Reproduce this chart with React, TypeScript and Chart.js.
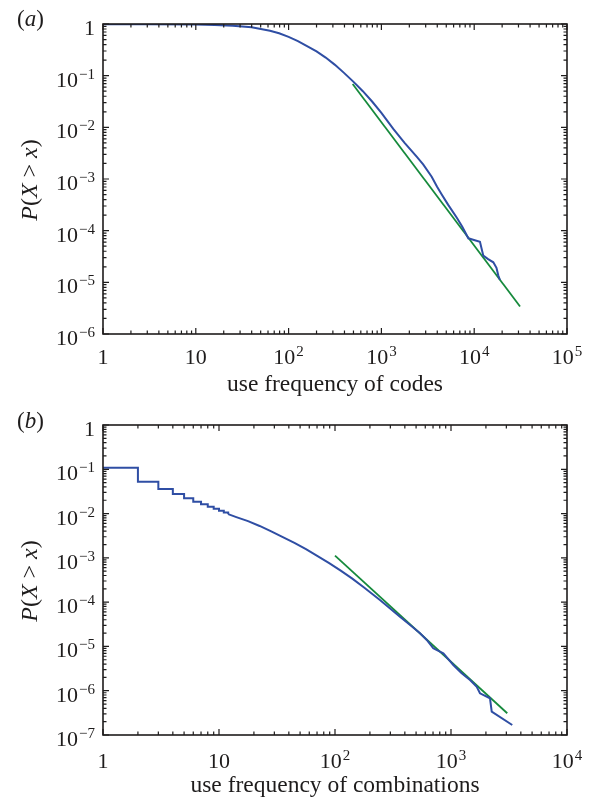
import React, { useEffect, useRef } from 'react';
import { Chart, registerables } from 'chart.js';

Chart.register(...registerables);

// ---------- Panel (a): use frequency of codes ----------
const codesFreq = [1, 3, 10, 16, 25, 40, 63, 79, 100, 126, 158, 200, 251, 316, 398, 501, 631, 794, 1000, 1343, 1778, 2399, 2818, 3483, 3981, 4467, 5248, 6471, 7413, 8650, 9550, 11535, 12531, 14125, 16069, 17378, 18197, 18967];
const codesCcdf = [0.991, 0.986, 0.973, 0.955, 0.927, 0.861, 0.741, 0.661, 0.562, 0.468, 0.372, 0.295, 0.224, 0.162, 0.112, 0.0759, 0.0501, 0.0316, 0.0191, 0.00933, 0.00501, 0.0027, 0.00191, 0.00111, 7.08e-4, 5.01e-4, 3.16e-4, 1.8e-4, 1.2e-4, 7.11e-5, 6.76e-5, 6.12e-5, 3.28e-5, 2.82e-5, 2.44e-5, 1.91e-5, 1.35e-5, 1.11e-5];
const codesFitX = [490, 31200];
const codesFitY = [0.069, 3.4e-6];

const xTicksA = [1, 10, 100, 1000, 10000, 100000];
const xTickLabelsA = ['1', '10', '10^2', '10^3', '10^4', '10^5'];
const yTicksA = [1, 0.1, 0.01, 0.001, 1e-4, 1e-5, 1e-6];
const yTickLabelsA = ['1', '10^−1', '10^−2', '10^−3', '10^−4', '10^−5', '10^−6'];

// ---------- Panel (b): use frequency of combinations ----------
const combStepX = [1, 2, 3, 4, 5, 6, 7, 8, 9, 10, 11, 12];
const combStepY = [0.109, 0.0525, 0.0359, 0.0277, 0.0221, 0.0186, 0.0162, 0.0143, 0.0129, 0.0116, 0.0106, 0.0097];
const combFreq = [12, 14.1, 17.8, 22.4, 28.2, 35.5, 44.7, 56.2, 70.8, 89.1, 112, 141, 178, 244, 295, 363, 447, 541, 618, 703, 859, 1047, 1236, 1459, 1667, 1778, 2168, 2244, 3373];
const combCcdf = [0.0097, 0.00832, 0.00676, 0.00525, 0.00398, 0.00295, 0.00219, 0.00158, 0.0011, 7.59e-4, 5.13e-4, 3.39e-4, 2.14e-4, 1.12e-4, 7.41e-5, 4.7e-5, 3.02e-5, 1.98e-5, 1.4e-5, 9.08e-6, 7.0e-6, 3.81e-6, 2.47e-6, 1.75e-6, 1.23e-6, 8.75e-7, 6.75e-7, 3.37e-7, 1.68e-7];
const combFitX = [100, 3055];
const combFitY = [1.12e-3, 3.1e-7];

const xTicksB = [1, 10, 100, 1000, 10000];
const xTickLabelsB = ['1', '10', '10^2', '10^3', '10^4'];
const yTicksB = [1, 0.1, 0.01, 0.001, 1e-4, 1e-5, 1e-6, 1e-7];
const yTickLabelsB = ['1', '10^−1', '10^−2', '10^−3', '10^−4', '10^−5', '10^−6', '10^−7'];

const BLUE = '#2f4ea4';
const GREEN = '#168a3c';
const INK = '#1e1c1c';
const SERIF = '"Liberation Serif", "Times New Roman", serif';

const pts = (xs: number[], ys: number[]) => xs.map((x, i) => ({ x, y: ys[i] }));

function minorTicks(ticks: number[]) {
  const lo = Math.min(...ticks);
  const hi = Math.max(...ticks);
  const out: number[] = [];
  for (let d = lo; d < hi * 0.999; d *= 10) {
    for (let k = 2; k <= 9; k++) out.push(d * k);
  }
  return out;
}

function drawTickLabel(ctx: CanvasRenderingContext2D, label: string, x: number, y: number, align: 'center' | 'right') {
  const [base, sup] = label.split('^');
  const size = 22;
  const supSize = 15;
  ctx.font = `${size}px ${SERIF}`;
  const wb = ctx.measureText(base).width;
  let ws = 0;
  if (sup) {
    ctx.font = `${supSize}px ${SERIF}`;
    ws = ctx.measureText(sup).width + 1;
  }
  const total = wb + ws;
  const x0 = align === 'center' ? x - total / 2 : x - total;
  ctx.textAlign = 'left';
  ctx.textBaseline = 'alphabetic';
  ctx.font = `${size}px ${SERIF}`;
  ctx.fillText(base, x0, y);
  if (sup) {
    ctx.font = `${supSize}px ${SERIF}`;
    ctx.fillText(sup, x0 + wb + 1, y - 8);
  }
}

type Seg = { t: string; it?: boolean };
function drawRich(ctx: CanvasRenderingContext2D, segs: Seg[], x: number, y: number, size: number, align: 'center' | 'left') {
  const fontOf = (s: Seg) => `${s.it ? 'italic ' : ''}${size}px ${SERIF}`;
  let total = 0;
  const widths = segs.map((s) => {
    ctx.font = fontOf(s);
    const w = ctx.measureText(s.t).width;
    total += w;
    return w;
  });
  let cx = align === 'center' ? x - total / 2 : x;
  ctx.textAlign = 'left';
  ctx.textBaseline = 'alphabetic';
  segs.forEach((s, i) => {
    ctx.font = fontOf(s);
    ctx.fillText(s.t, cx, y);
    cx += widths[i];
  });
}

type FrameCfg = {
  id: string;
  xTicks: number[];
  xLabels: string[];
  yTicks: number[];
  yLabels: string[];
  xTitle: string;
  panel: string;
  xLabelBase: number;
  xTitleBase: number;
  panelBase: number;
};

function framePlugin(cfg: FrameCfg) {
  return {
    id: cfg.id,
    afterDraw(chart: any) {
      const ctx: CanvasRenderingContext2D = chart.ctx;
      const a = chart.chartArea;
      const xs = chart.scales.x;
      const ys = chart.scales.y;
      ctx.save();
      ctx.strokeStyle = INK;
      ctx.fillStyle = INK;
      ctx.lineWidth = 1.6;
      ctx.strokeRect(a.left, a.top, a.right - a.left, a.bottom - a.top);

      ctx.lineWidth = 1.2;
      const vt = (v: number, len: number) => {
        const px = xs.getPixelForValue(v);
        ctx.beginPath();
        ctx.moveTo(px, a.bottom);
        ctx.lineTo(px, a.bottom - len);
        ctx.moveTo(px, a.top);
        ctx.lineTo(px, a.top + len);
        ctx.stroke();
      };
      const ht = (v: number, len: number) => {
        const py = ys.getPixelForValue(v);
        ctx.beginPath();
        ctx.moveTo(a.left, py);
        ctx.lineTo(a.left + len, py);
        ctx.moveTo(a.right, py);
        ctx.lineTo(a.right - len, py);
        ctx.stroke();
      };
      cfg.xTicks.forEach((v) => vt(v, 6));
      minorTicks(cfg.xTicks).forEach((v) => vt(v, 3.5));
      cfg.yTicks.forEach((v) => ht(v, 6));
      minorTicks(cfg.yTicks).forEach((v) => ht(v, 3.5));

      cfg.xTicks.forEach((v, i) => drawTickLabel(ctx, cfg.xLabels[i], xs.getPixelForValue(v), cfg.xLabelBase, 'center'));
      cfg.yTicks.forEach((v, i) => drawTickLabel(ctx, cfg.yLabels[i], a.left - 8, ys.getPixelForValue(v) + 11, 'right'));

      drawRich(ctx, [{ t: cfg.xTitle }], (a.left + a.right) / 2, cfg.xTitleBase, 23.5, 'center');

      ctx.save();
      ctx.translate(37, (a.top + a.bottom) / 2 + 1);
      ctx.rotate(-Math.PI / 2);
      drawRich(
        ctx,
        [{ t: 'P', it: true }, { t: '(' }, { t: 'X', it: true }, { t: ' > ' }, { t: 'x', it: true }, { t: ')' }],
        0,
        0,
        24,
        'center'
      );
      ctx.restore();

      drawRich(ctx, [{ t: '(' }, { t: cfg.panel, it: true }, { t: ')' }], 17, cfg.panelBase, 23, 'left');
      ctx.restore();
    },
  };
}

function makeChart(canvas: HTMLCanvasElement, datasets: any[], xRange: [number, number], yRange: [number, number], padding: any, plugin: any) {
  return new Chart(canvas, {
    type: 'line',
    data: { datasets },
    options: {
      animation: false,
      responsive: false,
      maintainAspectRatio: false,
      parsing: false as any,
      layout: { padding },
      scales: {
        x: { type: 'logarithmic', min: xRange[0], max: xRange[1], display: false },
        y: { type: 'logarithmic', min: yRange[0], max: yRange[1], display: false },
      },
      plugins: { legend: { display: false }, tooltip: { enabled: false } },
      elements: { point: { radius: 0 }, line: { tension: 0 } },
    },
    plugins: [plugin],
  });
}

export default function App() {
  const refA = useRef<HTMLCanvasElement>(null);
  const refB = useRef<HTMLCanvasElement>(null);

  useEffect(() => {
    const chartA = makeChart(
      refA.current!,
      [
        { data: pts(codesFreq, codesCcdf), borderColor: BLUE, borderWidth: 2, fill: false },
        { data: pts(codesFitX, codesFitY), borderColor: GREEN, borderWidth: 1.8, fill: false },
      ],
      [1, 1e5],
      [1e-6, 1],
      { left: 103, right: 28, top: 24, bottom: 76 },
      framePlugin({
        id: 'frameA',
        xTicks: xTicksA,
        xLabels: xTickLabelsA,
        yTicks: yTicksA,
        yLabels: yTickLabelsA,
        xTitle: 'use frequency of codes',
        panel: 'a',
        xLabelBase: 364,
        xTitleBase: 391,
        panelBase: 26,
      })
    );
    const chartB = makeChart(
      refB.current!,
      [
        { data: pts(combStepX, combStepY), borderColor: BLUE, borderWidth: 2, fill: false, stepped: 'before' },
        { data: pts(combFreq, combCcdf), borderColor: BLUE, borderWidth: 2, fill: false },
        { data: pts(combFitX, combFitY), borderColor: GREEN, borderWidth: 1.8, fill: false },
      ],
      [1, 1e4],
      [1e-7, 1],
      { left: 103, right: 28, top: 15, bottom: 65 },
      framePlugin({
        id: 'frameB',
        xTicks: xTicksB,
        xLabels: xTickLabelsB,
        yTicks: yTicksB,
        yLabels: yTickLabelsB,
        xTitle: 'use frequency of combinations',
        panel: 'b',
        xLabelBase: 358,
        xTitleBase: 382,
        panelBase: 18,
      })
    );
    return () => {
      chartA.destroy();
      chartB.destroy();
    };
  }, []);

  return (
    <div style={{ position: 'absolute', left: 0, top: 0, width: 595, height: 800, background: '#fff' }}>
      <canvas ref={refA} width={595} height={410} style={{ position: 'absolute', left: 0, top: 0, width: 595, height: 410 }} />
      <canvas ref={refB} width={595} height={390} style={{ position: 'absolute', left: 0, top: 410, width: 595, height: 390 }} />
    </div>
  );
}
